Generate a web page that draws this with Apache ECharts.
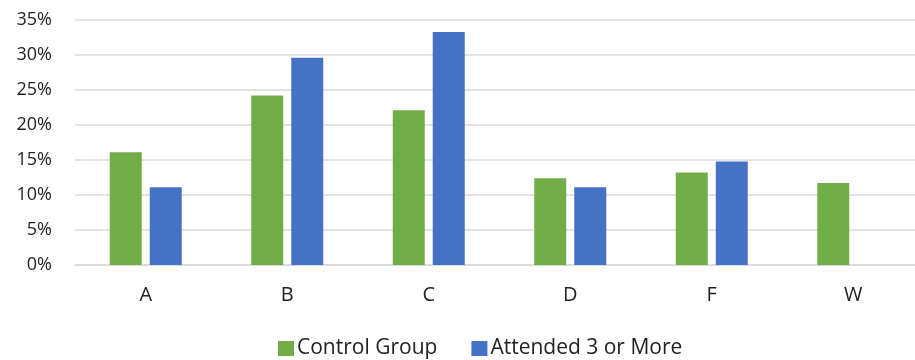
<!DOCTYPE html>
<html>
<head>
<meta charset="utf-8">
<script src="https://cdn.jsdelivr.net/npm/echarts@6/dist/echarts.min.js"></script>
<style>html,body{margin:0;padding:0;background:#fff;overflow:hidden;width:915px;height:360px}#c{width:930px;height:360px}</style>
</head>
<body>
<div id="c"></div>
<script>
const categories = ['A', 'B', 'C', 'D', 'F', 'W'];
const controlGroup = [16.1, 24.2, 22.1, 12.4, 13.2, 11.7];
const attended3OrMore = [11.1, 29.6, 33.3, 11.1, 14.8, null];
const seriesNames = ['Control Group', 'Attended 3 or More'];
const yTicks = { min: 0, max: 35, interval: 5 };

const chart = echarts.init(document.getElementById('c'), null, { renderer: 'canvas' });
const font = 'Open Sans';
chart.setOption({
  animation: false,
  backgroundColor: '#ffffff',
  grid: { left: 75, right: 6, top: 20, bottom: 95 },
  legend: {
    data: seriesNames,
    bottom: -4,
    left: 273,
    itemWidth: 16,
    itemHeight: 15,
    itemGap: 34,
    icon: 'rect',
    textStyle: { fontFamily: font, fontSize: 21, color: '#222', padding: [0, 0, 0, -2] }
  },
  xAxis: {
    type: 'category',
    data: categories,
    axisLine: { lineStyle: { color: '#D9D9D9', width: 1.5 } },
    axisTick: { show: false },
    axisLabel: { fontFamily: font, fontSize: 20, color: '#222', margin: 20 }
  },
  yAxis: {
    type: 'value',
    min: yTicks.min,
    max: yTicks.max,
    interval: yTicks.interval,
    axisLine: { show: false },
    axisTick: { show: false },
    splitLine: { lineStyle: { color: '#D9D9D9', width: 1.5 } },
    axisLabel: { fontFamily: font, fontSize: 18, color: '#222', margin: 23, formatter: '{value}%' }
  },
  series: [
    {
      name: seriesNames[0], type: 'bar', data: controlGroup,
      barWidth: 32, barGap: '25%',
      itemStyle: { color: '#70AD47' }
    },
    {
      name: seriesNames[1], type: 'bar', data: attended3OrMore,
      barWidth: 32, barGap: '25%',
      itemStyle: { color: '#4472C4' }
    }
  ]
});
</script>
</body>
</html>
